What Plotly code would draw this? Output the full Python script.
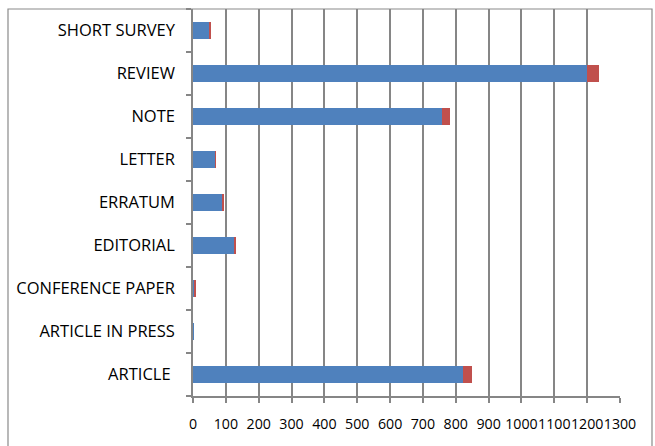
import plotly.graph_objects as go

categories = ["ARTICLE\u00a0", "ARTICLE IN PRESS", "CONFERENCE PAPER", "EDITORIAL",
              "ERRATUM", "LETTER", "NOTE", "REVIEW", "SHORT SURVEY"]
series_a = [823, 3, 6, 127, 89, 68, 759, 1199, 50]
series_b = [26, 0, 0.6, 5, 3, 2, 23, 38, 2]
x_ticks = list(range(0, 1301, 100))

W, H = 655, 446
ML, MR, MT, MB = 193, 35, 9, 50
pw = W - ML - MR
ph = H - MT - MB

fig = go.Figure()
fig.add_trace(go.Bar(y=categories, x=series_a, orientation="h", name="A",
                     marker=dict(color="#4F81BD", line=dict(width=0)), width=0.38))
fig.add_trace(go.Bar(y=categories, x=series_b, orientation="h", name="B",
                     marker=dict(color="#C0504D", line=dict(width=0)), width=0.38))

grid = "#868686"
font = dict(family="Open Sans", size=16.5, color="#000000")
xfont = dict(family="Open Sans", size=14.2, color="#000000")
fig.update_layout(
    barmode="stack",
    width=W, height=H,
    margin=dict(l=ML, r=MR, t=MT, b=MB, pad=0),
    paper_bgcolor="white", plot_bgcolor="white",
    showlegend=False,
    font=font,
    xaxis=dict(range=[0, 1300], tickvals=x_ticks, ticktext=[str(v) for v in x_ticks],
               tickangle=0, showgrid=True, gridcolor=grid, gridwidth=1.6,
               showline=True, linecolor=grid, linewidth=1.6,
               ticks="outside", ticklen=5, tickcolor=grid, tickwidth=1.6,
               ticklabelstandoff=9, zeroline=False, tickfont=xfont),
    yaxis=dict(categoryorder="array", categoryarray=categories,
               showgrid=False, showline=True, linecolor=grid, linewidth=1.6,
               ticks="outside", ticklen=5, tickcolor=grid, tickwidth=1.6,
               tickson="boundaries", ticklabelstandoff=13, tickfont=font,
               range=[-0.5, 8.5]),
)

# outer chart border
x0 = (8 - ML) / pw
x1 = (652 - ML) / pw
y1 = 1 + (MT - 9) / ph
y0 = -(448 - (H - MB)) / ph
fig.add_shape(type="rect", xref="paper", yref="paper", x0=x0, x1=x1, y0=y0, y1=y1,
              line=dict(color="#8a8a8a", width=1.2), layer="below")

fig.write_html("out.html")
